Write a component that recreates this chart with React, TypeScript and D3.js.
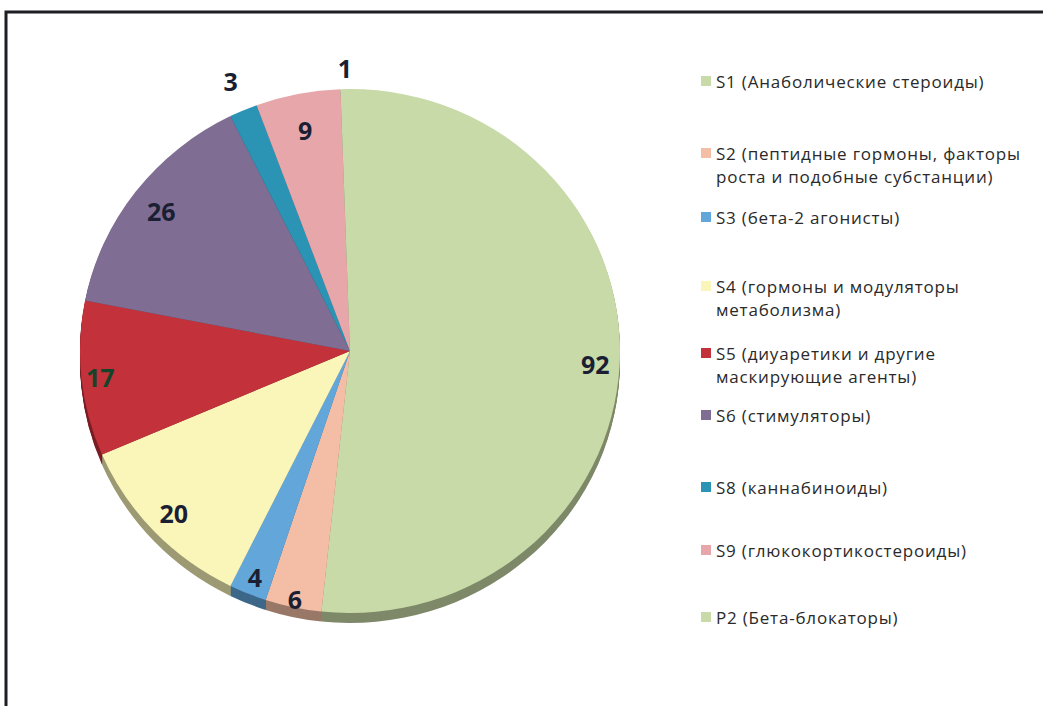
import React, { useEffect, useRef } from 'react';
import * as d3 from 'd3';

const categories = ['S1', 'S2', 'S3', 'S4', 'S5', 'S6', 'S8', 'S9', 'P2'];
const values = [92, 6, 4, 20, 17, 26, 3, 9, 1];
const legendLines = [
    ['S1 (Анаболические стероиды)'],
    ['S2 (пептидные гормоны, факторы', 'роста и подобные субстанции)'],
    ['S3 (бета-2 агонисты)'],
    ['S4 (гормоны и модуляторы', 'метаболизма)'],
    ['S5 (диуаретики и другие', 'маскирующие агенты)'],
    ['S6 (стимуляторы)'],
    ['S8 (каннабиноиды)'],
    ['S9 (глюкокортикостероиды)'],
    ['P2 (Бета-блокаторы)'],
];
const colors = ['#c8daa7', '#f4bea6', '#62a6da', '#faf5b8', '#c3323b', '#7f6d93', '#2b93b3', '#e7a6aa', '#c8daa7'];
const labelColors = ['#1b1f33', '#1b1f33', '#1b1f33', '#1b1f33', '#15442a', '#1b1f33', '#1b1f33', '#1b1f33', '#1b1f33'];
// label radius as a share of the radius (outside labels > 1)
const labelRadius = [0.91, 0.97, 0.93, 0.9, 0.93, 0.88, 1.12, 0.86, 1.08];
const legendY = [81, 153, 217, 286, 353, 415, 487, 550, 617];

export default () => {
    const svgRef = useRef<SVGSVGElement>(null);
    const width = 1043;
    const height = 706;

    useEffect(() => {
        const svg = d3.select(svgRef.current);
        svg.selectAll('*').remove();
        svg.attr('width', width).attr('height', height);

        svg.append('rect').attr('width', width).attr('height', height).attr('fill', '#fff');

        // frame (only top and left edges are in the picture)
        svg.append('rect')
            .attr('x', 6).attr('y', 12)
            .attr('width', 1100).attr('height', 800)
            .attr('fill', 'none')
            .attr('stroke', '#1e1e24')
            .attr('stroke-width', 3);

        const cx = 350, cy = 351, rx = 270, ry = 262, depth = 10;

        const pie = d3.pie<number>().sort(null).value(d => d);
        const arcs = pie(values);
        const arc = d3.arc<d3.PieArcDatum<number>>().innerRadius(0).outerRadius(rx);

        const g = svg.append('g').attr('transform', `translate(${cx},${cy}) scale(1,${ry / rx})`);

        // side of the disc
        d3.range(depth, 0, -1).forEach(k => {
            g.append('g')
                .attr('transform', `translate(0,${k * rx / ry})`)
                .selectAll('path')
                .data(arcs)
                .join('path')
                .attr('d', arc)
                .attr('fill', (d, i) => d3.color(colors[i])!.darker(1.3).toString());
        });

        g.selectAll('path.top')
            .data(arcs)
            .join('path')
            .attr('class', 'top')
            .attr('d', arc)
            .attr('fill', (d, i) => colors[i]);

        // data labels
        svg.append('g')
            .selectAll('text')
            .data(arcs)
            .join('text')
            .attr('x', (d, i) => cx + Math.sin((d.startAngle + d.endAngle) / 2) * rx * labelRadius[i])
            .attr('y', (d, i) => cy - Math.cos((d.startAngle + d.endAngle) / 2) * ry * labelRadius[i])
            .attr('text-anchor', 'middle')
            .attr('dominant-baseline', 'central')
            .attr('font-family', '"Open Sans", sans-serif')
            .attr('font-weight', 'bold')
            .attr('font-size', 25)
            .attr('fill', (d, i) => labelColors[i])
            .text(d => d.data);

        // legend
        const legend = svg.append('g').selectAll('g')
            .data(categories)
            .join('g')
            .attr('transform', (d, i) => `translate(701,${legendY[i]})`);

        legend.append('rect')
            .attr('x', 0).attr('y', -5)
            .attr('width', 10).attr('height', 10)
            .attr('fill', (d, i) => colors[i]);

        legend.append('text')
            .attr('x', 15)
            .attr('font-family', '"Open Sans", sans-serif')
            .attr('font-size', 17)
            .attr('letter-spacing', 0.8)
            .attr('fill', '#2a2a2a')
            .selectAll('tspan')
            .data((d, i) => legendLines[i])
            .join('tspan')
            .attr('x', 15)
            .attr('y', (d, j) => j * 23)
            .attr('dominant-baseline', 'central')
            .text(d => d);
    }, []);

    return <svg ref={svgRef} style={{ position: 'absolute', left: 0, top: 0 }}></svg>;
};
